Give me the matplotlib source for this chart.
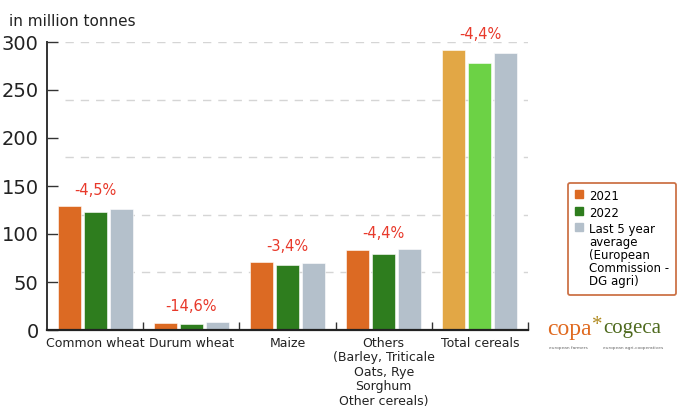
import matplotlib
matplotlib.use("Agg")
import matplotlib.pyplot as plt
from matplotlib.patches import Patch
import numpy as np

plt.rcParams['font.family'] = ['DejaVu Sans']

categories = ["Common wheat", "Durum wheat", "Maize",
              "Others\n(Barley, Triticale\nOats, Rye\nSorghum\nOther cereals)",
              "Total cereals"]
v2021 = [129.2, 7.3, 70.5, 83.0, 291.3]
v2022 = [123.2, 6.2, 68.0, 79.5, 278.0]
avg5 = [125.7, 8.0, 69.4, 84.4, 288.2]
changes = ["-4,5%", "-14,6%", "-3,4%", "-4,4%", "-4,4%"]
yticks = [0, 50, 100, 150, 200, 250, 300]
gridvals = [60, 120, 180, 240, 300]

orange, green, grey = "#DC6A23", "#2E7D1E", "#B4C0CB"
light_orange, light_green = "#E2A745", "#6CD245"

fig = plt.figure(figsize=(6.8, 4.16), dpi=100)
ax = fig.add_axes([47/680, 1-330/416, 481/680, 288/416])

x = np.arange(len(categories))
w = 0.24
step = 0.27
c1 = [orange]*4 + [light_orange]
c2 = [green]*4 + [light_green]

ax.hlines(gridvals, -0.31, 4.5, colors="#D5D5D5", linestyles=(0, (6, 5)), linewidth=1, zorder=0)
ax.bar(x - step, v2021, w, color=c1, edgecolor="white", linewidth=0.4, zorder=2)
ax.bar(x, v2022, w, color=c2, edgecolor="white", linewidth=0.4, zorder=2)
ax.bar(x + step, avg5, w, color=grey, edgecolor="white", linewidth=0.4, zorder=2)

for i, lab in enumerate(changes):
    top = max(v2021[i], v2022[i], avg5[i])
    ax.text(x[i], top + 16, lab, color="#E8392B", fontsize=10.5,
            ha="center", va="center", clip_on=False)

ax.set_xlim(-0.5, 4.5)
ax.set_ylim(0, 300)
ax.set_yticks(yticks)
ax.set_yticklabels([str(t) for t in yticks], fontsize=14, color="#222222")
ax.tick_params(axis="y", direction="in", length=8, width=1, color="#333333", pad=6)

ax.set_xticks(x)
ax.set_xticklabels(categories, fontsize=9, color="#222222", linespacing=1.15)
ax.tick_params(axis="x", which="major", length=0, pad=5)
ax.set_xticks(np.arange(0.5, 5, 1), minor=True)
ax.tick_params(axis="x", which="minor", direction="in", length=6, width=1, color="#333333")

for s in ["top", "right"]:
    ax.spines[s].set_visible(False)
ax.spines["left"].set_color("#333333")
ax.spines["left"].set_linewidth(1.4)
ax.spines["bottom"].set_color("#222222")
ax.spines["bottom"].set_linewidth(1.6)

fig.text(9/680, 1-21/416, "in million tonnes", fontsize=11, fontweight="medium",
         color="#222222", va="center")

handles = [Patch(color=orange, label="2021"),
           Patch(color=green, label="2022"),
           Patch(color=grey, label="Last 5 year\naverage\n(European\nCommission -\nDG agri)")]
leg = fig.legend(handles=handles, loc="upper left", bbox_to_anchor=(568/680, 1-183/416),
                 borderaxespad=0, fontsize=8.5, frameon=True, fancybox=True,
                 handlelength=0.7, handleheight=0.7, handletextpad=0.5, borderpad=0.6,
                 labelspacing=0.3, edgecolor="#C0501A")
leg.get_frame().set_linewidth(1.3)
for t in leg.get_texts():
    t.set_linespacing(1.0)
# put the square next to the first line of each entry
for col in leg._legend_handle_box.get_children():
    for row in col.get_children():
        row.align = "top"

# logo as text
fig.text(547/680, 1-329/416, "copa", fontsize=17, color="#E06A20", family="Liberation Serif",
         va="center", ha="left")
fig.text(597/680, 1-326/416, "*", fontsize=15, color="#B08A20", family="Liberation Serif",
         va="center", ha="center")
fig.text(603/680, 1-329/416, "cogeca", fontsize=15, color="#4E6A1E", family="Liberation Serif",
         va="center", ha="left")
fig.text(549/680, 1-348/416, "european farmers", fontsize=3.2, color="#666666", va="center")
fig.text(603/680, 1-348/416, "european agri-cooperatives", fontsize=3.2, color="#666666", va="center")

fig.savefig("out.png", dpi=100)
